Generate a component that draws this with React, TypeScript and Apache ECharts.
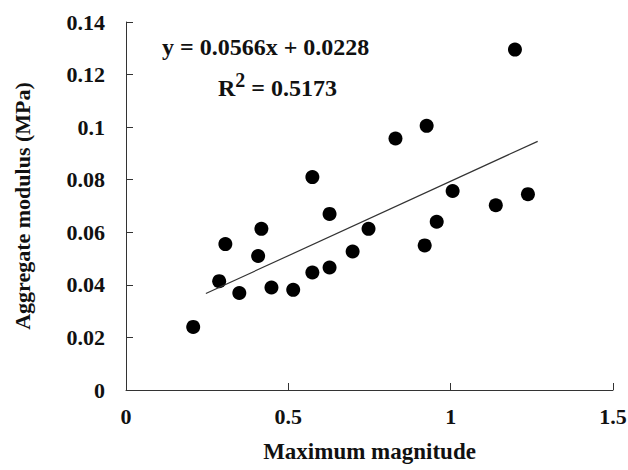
import React, { useEffect, useRef } from "react";
import * as echarts from "echarts";

const xValues = [0.207, 0.287, 0.306, 0.349, 0.407, 0.417, 0.448, 0.515, 0.574, 0.574, 0.627, 0.627, 0.698, 0.747, 0.83, 0.92, 0.926, 0.957, 1.006, 1.139, 1.198, 1.238];
const yValues = [0.024, 0.0414, 0.0555, 0.0369, 0.051, 0.0613, 0.039, 0.0381, 0.0447, 0.081, 0.0466, 0.067, 0.0527, 0.0613, 0.0957, 0.055, 0.1005, 0.064, 0.0757, 0.0703, 0.1295, 0.0745];
const trendX = [0.246, 1.268];
const trendY = [0.0367, 0.0946];
const equationText = "y = 0.0566x + 0.0228";
const r2Value = "0.5173";

const FONT = "Liberation Serif";

export default function App() {
  const ref = useRef<HTMLDivElement>(null);
  useEffect(() => {
    document.body.style.margin = "0";
    if (!ref.current) return;
    const chart = echarts.init(ref.current, undefined, { renderer: "svg" });
    const points = xValues.map((x, i) => [x, yValues[i]]);
    const trend = trendX.map((x, i) => [x, trendY[i]]);
    const txt = { fontFamily: FONT, fontWeight: "bold" as const, color: "#111" };
    chart.setOption({
      animation: false,
      backgroundColor: "#ffffff",
      textStyle: { fontFamily: FONT },
      grid: { left: 126, right: 15, top: 22, bottom: 80, containLabel: false, outerBoundsMode: "none" },
      xAxis: {
        type: "value",
        min: 0,
        max: 1.5,
        interval: 0.5,
        name: "Maximum magnitude",
        nameLocation: "middle",
        nameGap: 50,
        nameTextStyle: { ...txt, fontSize: 23 },
        axisLine: { show: true, lineStyle: { color: "#333", width: 1 } },
        axisTick: { show: true, inside: true, length: 7, lineStyle: { color: "#333" } },
        splitLine: { show: false },
        axisLabel: { ...txt, fontSize: 22, margin: 15 },
      },
      yAxis: {
        type: "value",
        min: 0,
        max: 0.14,
        interval: 0.02,
        name: "Aggregate modulus (MPa)",
        nameLocation: "middle",
        nameGap: 93,
        nameTextStyle: { ...txt, fontSize: 22 },
        axisLine: { show: true, lineStyle: { color: "#333", width: 1 } },
        axisTick: { show: true, inside: true, length: 7, lineStyle: { color: "#333" } },
        splitLine: { show: false },
        axisLabel: { ...txt, fontSize: 22, margin: 21 },
      },
      graphic: [
        {
          type: "text",
          left: 162,
          top: 35,
          style: { text: equationText, fontFamily: FONT, fontWeight: "bold", fontSize: 24, fill: "#111" },
        },
        {
          type: "text",
          left: 218,
          top: 70,
          style: {
            text: "{n|R}{s|2}{n| = " + r2Value + "}",
            rich: {
              n: { fontFamily: FONT, fontWeight: "bold", fontSize: 24, fill: "#111", verticalAlign: "bottom", lineHeight: 30 },
              s: { fontFamily: FONT, fontWeight: "bold", fontSize: 20, fill: "#111", verticalAlign: "top", lineHeight: 30 },
            },
          },
        },
      ],
      series: [
        {
          type: "scatter",
          data: points,
          symbol: "circle",
          symbolSize: 14,
          itemStyle: { color: "#000", opacity: 1 },
        },
        {
          type: "line",
          data: trend,
          symbol: "none",
          lineStyle: { color: "#333", width: 1.2 },
        },
      ],
    });
    return () => chart.dispose();
  }, []);
  return <div ref={ref} style={{ width: 628, height: 470 }} />;
}
